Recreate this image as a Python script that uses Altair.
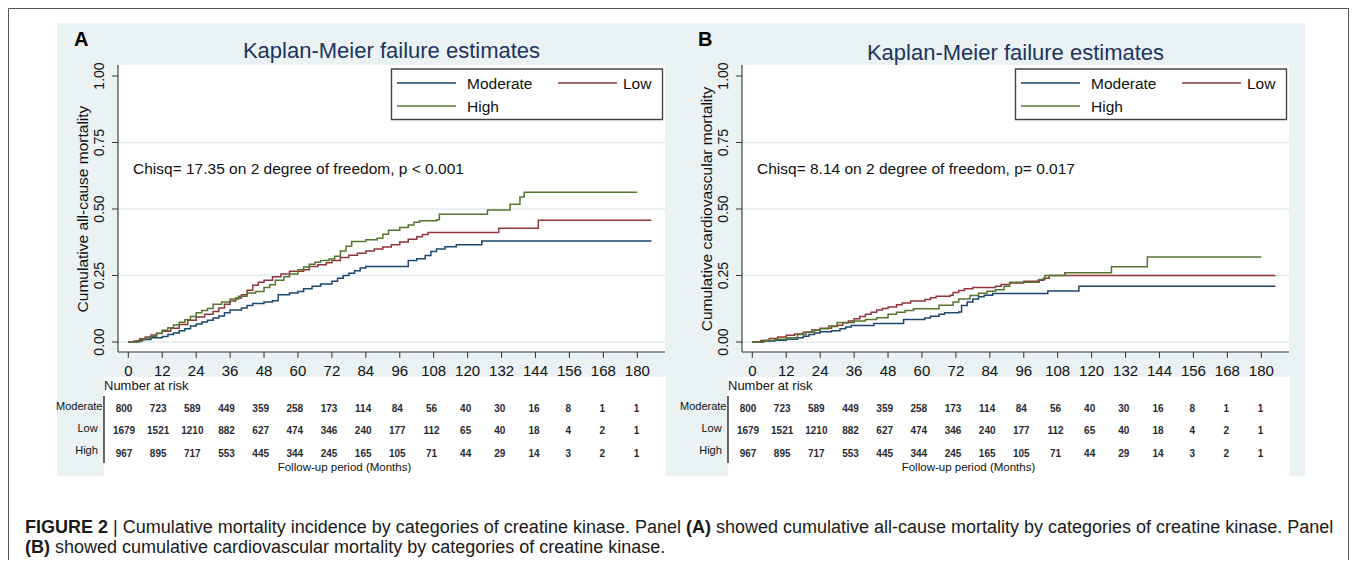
import altair as alt
import pandas as pd

M = 8  # page margin
FONT = "Liberation Sans"
BG = "#eaf2f3"
GRID = "#e1ebee"
AXIS = "#333333"
TITLE_C = "#1c3461"

groups = ["Moderate", "Low", "High"]
colors = ["#1a476f", "#90353b", "#55752f"]
x_ticks = list(range(0, 181, 12))
y_ticks = [0.0, 0.25, 0.5, 0.75, 1.0]
grid_ticks = [0.0, 0.25, 0.5, 0.75]

# ---- Panel A: all-cause mortality (step curves) ----
a_mod_t = [0, 3, 5, 8, 12, 14, 16, 18, 20, 22, 24, 26, 28, 30, 32, 34, 36, 40, 42, 44, 48, 51, 53, 57, 60, 62, 65, 68, 72, 74, 76, 78, 80, 82, 84, 99, 102, 105, 107, 109, 112, 116, 125, 185]
a_mod_v = [0, .004, .009, .016, .021, .028, .034, .042, .050, .060, .068, .075, .082, .090, .098, .110, .120, .128, .137, .145, .150, .155, .178, .184, .190, .200, .210, .218, .228, .240, .250, .258, .268, .278, .284, .306, .313, .325, .340, .350, .358, .366, .380, .380]
a_low_t = [0, 2, 4, 6, 8, 10, 12, 15, 18, 21, 24, 27, 30, 32, 34, 36, 38, 40, 42, 44, 46, 48, 51, 54, 57, 62, 64, 67, 70, 72, 75, 78, 81, 84, 87, 90, 93, 96, 99, 102, 104, 106, 131, 145, 185]
a_low_v = [0, .004, .012, .019, .026, .033, .040, .052, .066, .082, .094, .104, .115, .128, .142, .154, .165, .178, .195, .213, .225, .232, .245, .256, .266, .272, .284, .290, .298, .306, .318, .326, .334, .342, .350, .357, .366, .376, .386, .396, .404, .412, .428, .458, .458]
a_high_t = [0, 4, 6, 8, 10, 12, 14, 16, 18, 20, 22, 24, 26, 28, 30, 33, 36, 39, 42, 45, 48, 50, 52, 55, 57, 60, 62, 64, 66, 68, 71, 73, 75, 77, 79, 84, 88, 90, 92, 96, 99, 101, 103, 109, 110, 127, 135, 138.5, 140, 180]
a_high_v = [0, .008, .015, .022, .032, .044, .054, .064, .074, .084, .096, .110, .118, .126, .142, .150, .162, .172, .184, .190, .205, .215, .232, .245, .256, .272, .282, .292, .300, .306, .312, .322, .342, .360, .378, .384, .390, .405, .420, .430, .440, .450, .456, .460, .480, .496, .518, .545, .563, .563]

# ---- Panel B: cardiovascular mortality ----
b_mod_t = [0, 4, 8, 12, 16, 18, 20, 22, 24, 28, 31, 33, 35, 43, 53.5, 61, 63, 66, 68, 73, 74, 76, 78, 80, 82, 85, 104.5, 115.5, 185]
b_mod_v = [0, .004, .007, .010, .016, .022, .028, .034, .039, .042, .050, .056, .062, .070, .085, .090, .097, .104, .110, .113, .137, .150, .162, .170, .176, .182, .192, .210, .210]
b_low_t = [0, 3, 6, 9, 12, 15, 18, 21, 24, 28, 30, 32, 34, 36, 38, 40, 42, 44, 46, 48, 51, 53, 56, 61, 63, 65, 70, 71, 73, 75, 78, 86, 88, 91, 96, 101, 103, 105, 185]
b_low_v = [0, .006, .013, .019, .025, .030, .037, .045, .052, .058, .063, .072, .079, .087, .096, .104, .112, .120, .126, .132, .140, .147, .154, .160, .166, .172, .176, .186, .194, .200, .205, .210, .216, .222, .228, .232, .240, .250, .250]
b_high_t = [0, 4, 8, 12, 16, 19, 22, 24, 27, 30, 36, 40, 44, 48, 51, 54, 57, 62, 66, 71, 73, 77, 80, 83, 86, 89, 91, 100, 101.5, 103.5, 110.5, 127, 139.7, 180]
b_high_v = [0, .006, .010, .016, .028, .038, .044, .050, .060, .073, .079, .085, .091, .104, .112, .118, .125, .125, .138, .150, .162, .175, .183, .191, .196, .210, .225, .225, .235, .250, .260, .283, .320, .320]

# ---- Number at risk ----
risk_moderate = [800, 723, 589, 449, 359, 258, 173, 114, 84, 56, 40, 30, 16, 8, 1, 1]
risk_low = [1679, 1521, 1210, 882, 627, 474, 346, 240, 177, 112, 65, 40, 18, 4, 2, 1]
risk_high = [967, 895, 717, 553, 445, 344, 245, 165, 105, 71, 44, 29, 14, 3, 2, 1]

DUMMY = alt.InlineData(values=[{"k": 0}])


def P(v):
    return v - M


def rect(x1, x2, y1, y2, **kw):
    return alt.Chart(DUMMY).mark_rect(**kw).encode(
        x=alt.value(P(x1)), x2=alt.value(P(x2)), y=alt.value(P(y1)), y2=alt.value(P(y2)))


def hrule(x1, x2, y, **kw):
    return alt.Chart(DUMMY).mark_rule(**kw).encode(
        x=alt.value(P(x1)), x2=alt.value(P(x2)), y=alt.value(P(y)))


def vrule(x, y1, y2, **kw):
    return alt.Chart(DUMMY).mark_rule(**kw).encode(
        x=alt.value(P(x)), y=alt.value(P(y1)), y2=alt.value(P(y2)))


def label(txt, x, y, size, align="left", weight="normal", color="#111111", angle=0):
    return alt.Chart(DUMMY).mark_text(
        text=txt, font=FONT, fontSize=size, align=align, baseline="middle",
        fontWeight=weight, color=color, angle=angle).encode(
        x=alt.value(P(x)), y=alt.value(P(y)))


def panel(off, curves, ytitle, chisq, letter, ty):
    L = []
    L.append(rect(57 + off, 681 + off, 23, 476, fill=BG))
    L.append(rect(118 + off, 665 + off, 65, 352, fill="white"))
    L.append(rect(104 + off, 666 + off, 377, 476, fill="white"))

    xs = alt.Scale(domain=[0, 180], range=[P(128.3 + off), P(637.3 + off)], nice=False, zero=False)
    ys = alt.Scale(domain=[0, 1], range=[P(342), P(76)], nice=False, zero=False)

    grid_df = pd.DataFrame({"v": grid_ticks})
    L.append(alt.Chart(grid_df).mark_rule(color=GRID, strokeWidth=1.6).encode(
        y=alt.Y("v:Q", scale=ys, axis=None),
        x=alt.value(P(118 + off)), x2=alt.value(P(665 + off))))

    # axes
    L.append(vrule(118 + off, 65, 352, color=AXIS, strokeWidth=1.1))
    L.append(hrule(118 + off, 665 + off, 352, color=AXIS, strokeWidth=1.1))
    yt = pd.DataFrame({"v": y_ticks, "lab": [f"{v:.2f}" for v in y_ticks]})
    L.append(alt.Chart(yt).mark_rule(color=AXIS, strokeWidth=1).encode(
        y=alt.Y("v:Q", scale=ys, axis=None),
        x=alt.value(P(112 + off)), x2=alt.value(P(118 + off))))
    L.append(alt.Chart(yt).mark_text(font=FONT, fontSize=14, angle=270, align="center",
                                     baseline="middle", color="#111111").encode(
        y=alt.Y("v:Q", scale=ys, axis=None), x=alt.value(P(100 + off)), text="lab:N"))
    xt = pd.DataFrame({"m": x_ticks})
    L.append(alt.Chart(xt).mark_rule(color=AXIS, strokeWidth=1).encode(
        x=alt.X("m:Q", scale=xs, axis=None), y=alt.value(P(352)), y2=alt.value(P(358))))
    L.append(alt.Chart(xt).mark_text(font=FONT, fontSize=15, align="center",
                                     baseline="middle", color="#111111").encode(
        x=alt.X("m:Q", scale=xs, axis=None), y=alt.value(P(371)), text="m:Q"))

    # curves
    for (t, v), c in zip(curves, colors):
        df = pd.DataFrame({"t": t, "v": v})
        L.append(alt.Chart(df).mark_line(interpolate="step-after", color=c, strokeWidth=1.5).encode(
            x=alt.X("t:Q", scale=xs, axis=None), y=alt.Y("v:Q", scale=ys, axis=None)))

    # titles & texts
    L.append(label("Kaplan-Meier failure estimates", 391.5 + off, ty, 22, align="center", color=TITLE_C))
    L.append(label(letter, 74 + off, 39.5, 20, weight="bold", color="#000000"))
    L.append(label(ytitle, 83 + off, 209, 15.5, align="center", angle=270))
    L.append(label(chisq, 133 + off, 169, 15.5))

    # legend
    L.append(rect(391.5 + off, 662.5 + off, 69, 119.5, fill="white", stroke="#444444", strokeWidth=1.4))
    L.append(hrule(397 + off, 456 + off, 83, color=colors[0], strokeWidth=1.5))
    L.append(hrule(558 + off, 617 + off, 83, color=colors[1], strokeWidth=1.5))
    L.append(hrule(397 + off, 456 + off, 106, color=colors[2], strokeWidth=1.5))
    L.append(label(groups[0], 467 + off, 84, 15.5))
    L.append(label(groups[1], 623 + off, 84, 15.5))
    L.append(label(groups[2], 467 + off, 107, 15.5))

    # number at risk table
    L.append(label("Number at risk", 104 + off, 386, 13))
    L.append(vrule(104 + off, 396, 463, color="#000000", strokeWidth=1.2))
    L.append(label(groups[0], 102.5 + off, 407, 11, align="right"))
    L.append(label(groups[1], 87.5 + off, 429, 11, align="center"))
    L.append(label(groups[2], 86.5 + off, 451, 11, align="center"))
    rows = []
    for g, vals in zip(groups, [risk_moderate, risk_low, risk_high]):
        for m, n in zip(x_ticks, vals):
            rows.append({"g": g, "m": m, "n": n})
    rdf = pd.DataFrame(rows)
    txs = alt.Scale(domain=[0, 180], range=[P(124 + off), P(636.5 + off)], nice=False, zero=False)
    tys = alt.Scale(type="point", domain=groups, range=[P(408.5), P(453.5)], padding=0)
    L.append(alt.Chart(rdf).mark_text(font=FONT, fontSize=10, fontWeight="bold", align="center",
                                      baseline="middle", color="#2a2a33").encode(
        x=alt.X("m:Q", scale=txs, axis=None), y=alt.Y("g:N", scale=tys, axis=None), text="n:Q"))
    L.append(label("Follow-up period (Months)", 344.5 + off, 467.5, 11.5, align="center"))
    return L


layers = []
# outer frame
layers.append(hrule(8.5, 1348.5, 8.5, color="#555555", strokeWidth=1))
layers.append(vrule(8.5, 8.5, 571, color="#555555", strokeWidth=1))
layers.append(vrule(1348.5, 8.5, 571, color="#555555", strokeWidth=1))

layers += panel(0, [(a_mod_t, a_mod_v), (a_low_t, a_low_v), (a_high_t, a_high_v)],
                "Cumulative all-cause mortality",
                "Chisq= 17.35 on 2 degree of freedom, p < 0.001", "A", 51)
layers += panel(624, [(b_mod_t, b_mod_v), (b_low_t, b_low_v), (b_high_t, b_high_v)],
                "Cumulative cardiovascular mortality",
                "Chisq= 8.14 on 2 degree of freedom, p= 0.017", "B", 52.5)

# caption (Liberation Sans has Arial metrics; offsets in em units)
S = 18.0
X0 = 25
L1 = 527.5
L2 = 548
CC = "#1a1a1a"
layers.append(label("FIGURE 2", X0, L1, S, weight="bold", color=CC))
layers.append(label("| Cumulative mortality incidence by categories of creatine kinase. Panel",
                    X0 + 4.89 * S, L1, S, color=CC))
layers.append(label("(A)", X0 + 36.718 * S, L1, S, weight="bold", color=CC))
layers.append(label("showed cumulative all-cause mortality by categories of creatine kinase. Panel",
                    X0 + 38.384 * S, L1, S, color=CC))
layers.append(label("(B)", X0, L2, S, weight="bold", color=CC))
layers.append(label("showed cumulative cardiovascular mortality by categories of creatine kinase.",
                    X0 + 1.666 * S, L2, S, color=CC))

chart = alt.layer(*layers).resolve_scale(x="independent", y="independent").properties(
    width=1341, height=552, padding=0, autosize=alt.AutoSizeParams(type="none"),
    background="white"
).configure_view(strokeWidth=0)

chart.save("out.html", embed_options={"renderer": "svg", "actions": False})
